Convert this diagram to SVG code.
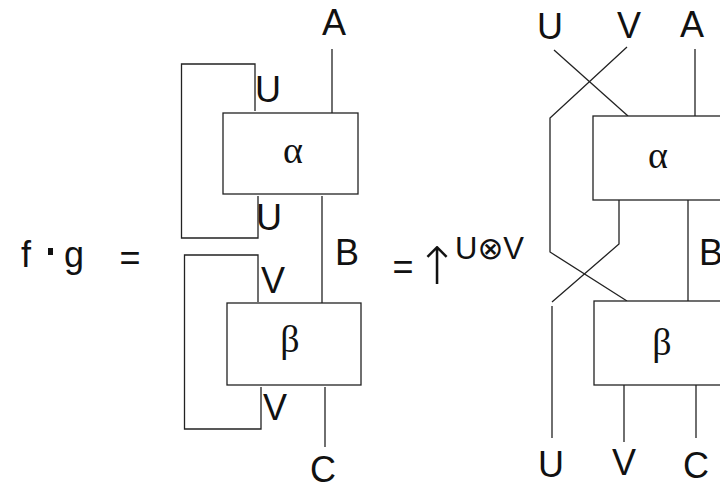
<svg xmlns="http://www.w3.org/2000/svg" width="720" height="491" viewBox="0 0 720 491">
<style>
.w{fill:none;stroke:#222;stroke-width:1.3}
.box{fill:#fff;stroke:#222;stroke-width:1.3}
.lbl{font-family:"Liberation Sans",Arial,sans-serif;font-size:36px;fill:#111;text-anchor:middle}
.gr{font-family:"Liberation Serif","Times New Roman",serif;font-size:38px;fill:#111;text-anchor:middle}
.sm{font-family:"Liberation Sans","DejaVu Sans",sans-serif;font-size:31px;fill:#111}
.arr{font-family:"DejaVu Sans",sans-serif;font-size:52px;font-weight:200;fill:#111;text-anchor:middle}
</style>
<rect width="720" height="491" fill="#fff"/>
<g id="connectors">
  <path class="w" d="M332,49 V113"/>
  <path class="w" d="M255,111 V64 H181.5 V238 H258 V196"/>
  <path class="w" d="M322,196 V303"/>
  <path class="w" d="M258,302 V255 H184.5 V429 H261 V387"/>
  <path class="w" d="M325,387 V447"/>
  <path class="w" d="M554,50 L628,116"/>
  <path class="w" d="M627,47 L550,118 V252 L627,301"/>
  <path class="w" d="M695,49 V116"/>
  <path class="w" d="M619,200 V244 L552,302"/>
  <path class="w" d="M552,306 V438"/>
  <path class="w" d="M688,200 V301"/>
  <path class="w" d="M624,385 V442"/>
  <path class="w" d="M696,385 V438"/>
</g>
<g id="alpha-left">
  <rect class="box" x="223" y="113" width="135" height="81"/>
  <text class="gr" x="293" y="163">α</text>
</g>
<g id="beta-left">
  <rect class="box" x="227" y="303" width="134" height="82"/>
  <text class="gr" x="290" y="352">β</text>
</g>
<g id="alpha-right">
  <rect class="box" x="593" y="116" width="150" height="84"/>
  <text class="gr" x="658" y="168">α</text>
</g>
<g id="beta-right">
  <rect class="box" x="594" y="301" width="150" height="84"/>
  <text class="gr" x="662" y="355">β</text>
</g>
<g id="labels">
  <text class="lbl" x="334" y="35">A</text>
  <text class="lbl" x="268" y="102">U</text>
  <text class="lbl" x="269" y="230">U</text>
  <text class="lbl" x="347" y="265">B</text>
  <text class="lbl" x="273" y="293">V</text>
  <text class="lbl" x="275" y="420">V</text>
  <text class="lbl" x="323" y="482">C</text>
  <text class="lbl" x="550" y="39">U</text>
  <text class="lbl" x="629" y="38">V</text>
  <text class="lbl" x="692" y="37">A</text>
  <text class="lbl" x="711" y="265">B</text>
  <text class="lbl" x="551" y="477">U</text>
  <text class="lbl" x="624" y="475">V</text>
  <text class="lbl" x="696" y="478">C</text>
</g>
<g id="equation">
  <text class="lbl" x="26" y="267">f</text>
  <rect x="48" y="248" width="5" height="7" fill="#111"/>
  <text class="lbl" x="74" y="267">g</text>
  <text class="lbl" x="130" y="270">=</text>
  <text class="lbl" x="403" y="279">=</text>
  <text class="arr" x="437" y="284">↑</text>
  <text class="sm" x="455" y="259">U⊗V</text>
</g>
</svg>
